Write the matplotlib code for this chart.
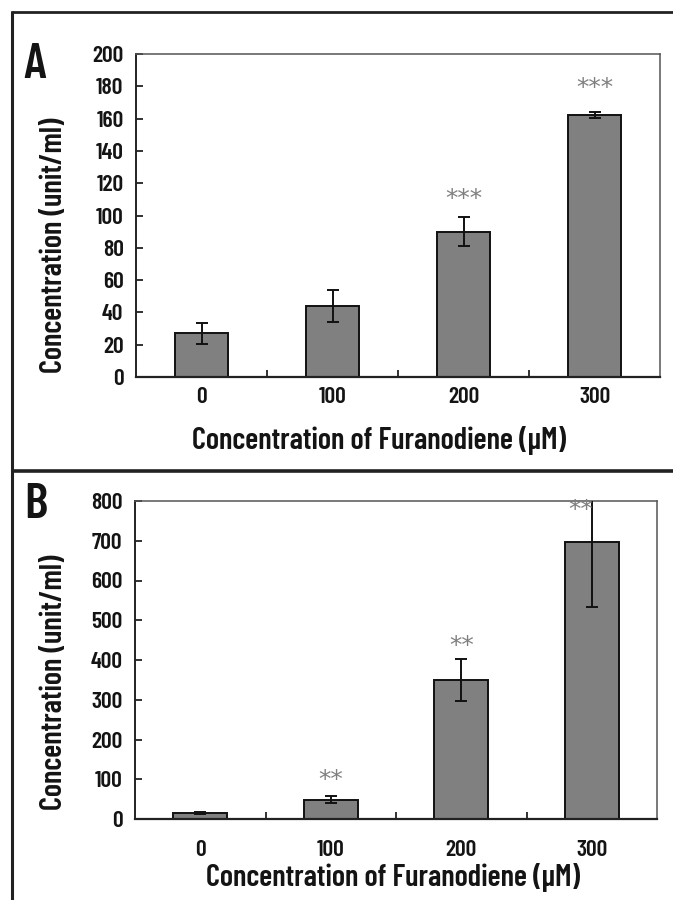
import matplotlib
matplotlib.use("Agg")
import matplotlib.pyplot as plt
from matplotlib.lines import Line2D
from matplotlib.ticker import FixedLocator, NullFormatter

plt.rcParams['font.family'] = ['Barlow Condensed', 'DejaVu Sans']

categories = ["0", "100", "200", "300"]

# Panel A
a_values = [27, 44, 90, 162]
a_errors = [6.5, 10, 9, 1.8]
a_stars = ["", "", "***", "***"]
a_star_y = [0, 0, 110, 179]
a_yticks = [0, 20, 40, 60, 80, 100, 120, 140, 160, 180, 200]

# Panel B
b_values = [15, 48, 350, 697]
b_errors = [3, 9, 53, 163]
b_stars = ["", "**", "**", "**"]
b_star_y = [0, 98, 435, 777]
b_yticks = [0, 100, 200, 300, 400, 500, 600, 700, 800]

W, H = 673, 900
fig = plt.figure(figsize=(W / 100, H / 100), dpi=100)

BAR_COLOR = "#808080"
TXT = "#141414"
WEIGHT = 600


def px_axes(l, r, t, b):
    return fig.add_axes([l / W, 1 - b / H, (r - l) / W, (b - t) / H])


def draw_panel(ax, values, errors, stars, star_y, yticks, xpad, star_dx):
    x = list(range(len(categories)))
    ax.bar(x, values, width=0.41, color=BAR_COLOR, edgecolor="#111111",
           linewidth=1.4, zorder=2)
    ax.errorbar(x, values, yerr=errors, fmt="none", ecolor="#111111",
                elinewidth=1.4, capsize=4, capthick=1.4, zorder=3)
    for xi, s, sy, dx in zip(x, stars, star_y, star_dx):
        if s:
            ax.text(xi + dx, sy, s, ha="center", va="center", fontsize=18,
                    color="#808080", family="DejaVu Sans", zorder=4)
    ax.set_xlim(-0.5, len(categories) - 0.5)
    ax.set_ylim(yticks[0], yticks[-1])
    ax.set_yticks(yticks)
    ax.set_xticks(x)
    ax.set_xticklabels(categories)
    ax.xaxis.set_minor_locator(FixedLocator([0.5, 1.5, 2.5]))
    ax.xaxis.set_minor_formatter(NullFormatter())
    ax.tick_params(axis="x", which="major", length=0, pad=xpad,
                   labelsize=17, labelcolor=TXT)
    ax.tick_params(axis="x", which="minor", direction="in", length=5,
                   width=1.3, color="#222222")
    ax.tick_params(axis="y", direction="in", length=5, width=1.3,
                   color="#222222", pad=9, labelsize=17, labelcolor=TXT)
    for lab in ax.get_xticklabels() + ax.get_yticklabels():
        lab.set_fontweight(WEIGHT)
    ax.spines["left"].set_color("#222222")
    ax.spines["left"].set_linewidth(1.4)
    ax.spines["bottom"].set_color("#222222")
    ax.spines["bottom"].set_linewidth(1.6)
    ax.spines["top"].set_color("#555555")
    ax.spines["top"].set_linewidth(1.1)
    ax.spines["right"].set_color("#555555")
    ax.spines["right"].set_linewidth(1.1)


axA = px_axes(136, 660, 54, 377)
draw_panel(axA, a_values, a_errors, a_stars, a_star_y, a_yticks, 7,
           [0, 0, 0, 0])

axB = px_axes(135, 657, 501, 819)
draw_panel(axB, b_values, b_errors, b_stars, b_star_y, b_yticks, 15,
           [0, 0, 0, -0.085])

xlabel = "Concentration of Furanodiene (\u00b5M)"
ylabel = "Concentration (unit/ml)"

fig.text(379 / W, 1 - 440 / H, xlabel, ha="center", va="center",
         fontsize=22, fontweight=WEIGHT, color=TXT)
fig.text(393 / W, 1 - 878 / H, xlabel, ha="center", va="center",
         fontsize=22, fontweight=WEIGHT, color=TXT)
fig.text(54 / W, 1 - 245 / H, ylabel, ha="center", va="center",
         rotation=90, fontsize=22, fontweight=WEIGHT, color=TXT)
fig.text(54 / W, 1 - 682 / H, ylabel, ha="center", va="center",
         rotation=90, fontsize=22, fontweight=WEIGHT, color=TXT)

fig.text(35 / W, 1 - 65 / H, "A", ha="center", va="center",
         fontsize=36, fontweight=WEIGHT, color=TXT)
fig.text(36 / W, 1 - 505 / H, "B", ha="center", va="center",
         fontsize=36, fontweight=WEIGHT, color=TXT)

# Panel frame lines
frame_kw = dict(color="#222222", solid_capstyle="butt")
fig.add_artist(Line2D([11 / W, 1], [1 - 12 / H, 1 - 12 / H], lw=2.0, **frame_kw))
fig.add_artist(Line2D([12 / W, 12 / W], [1 - 11 / H, 0], lw=2.2, **frame_kw))
fig.add_artist(Line2D([12 / W, 1], [1 - 471 / H, 1 - 471 / H], lw=2.6, **frame_kw))

fig.savefig("out.png", dpi=100)
